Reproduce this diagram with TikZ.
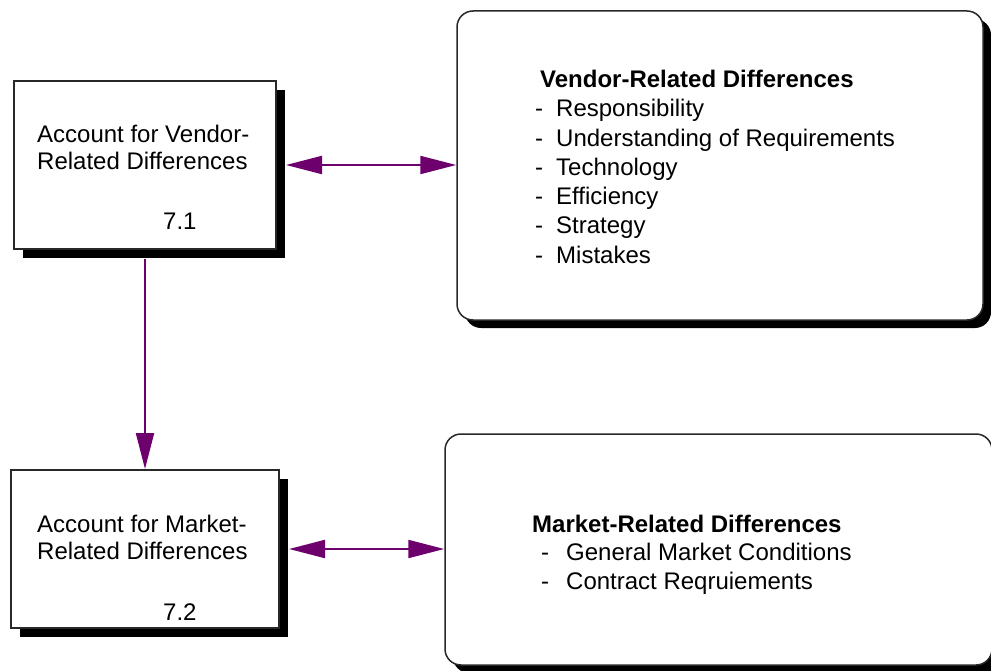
\documentclass[tikz,border=0pt]{standalone}
\usepackage{fontspec}
\setmainfont{Liberation Sans}
\usetikzlibrary{arrows.meta,shadows}
\definecolor{pur}{RGB}{110,0,110}
\definecolor{edge}{RGB}{40,40,40}
\begin{document}
\begin{tikzpicture}[x=1pt,y=-1pt,
  procbox/.style={draw=edge, line width=2pt, fill=white, inner sep=0pt,
    general shadow={fill=black, shadow xshift=9pt, shadow yshift=-9pt}},
  storebox/.style={draw=edge, line width=1.5pt, fill=white, inner sep=0pt, rounded corners=16pt,
    general shadow={fill=black, shadow xshift=8pt, shadow yshift=-8pt}},
  txt/.style={anchor=base west, inner sep=0pt, font=\fontsize{24}{27}\selectfont},
  btxt/.style={txt, font=\fontsize{24}{27}\selectfont\bfseries},
  flow/.style={draw=pur, line width=2pt},
  tip/.tip={Triangle[length=36pt,width=18pt]}]
\useasboundingbox (0,0) rectangle (991,671);
\clip (0,0) rectangle (991,671);
\fill[white] (0,0) rectangle (991,671);

% boxes
\node[procbox, minimum width=262pt, minimum height=168pt] (p1) at (145,165) {};
\node[procbox, minimum width=268pt, minimum height=158pt] (p2) at (145,549) {};
\node[storebox, minimum width=526pt, minimum height=309pt] (s1) at (720,165.5) {};
\node[storebox, minimum width=547pt, minimum height=231pt] (s2) at (718.5,549.5) {};

% connectors
\coordinate (p1r) at ([xshift=9pt]p1.east);
\coordinate (p2r) at ([xshift=9pt]p2.east);
\coordinate (p1b) at ([yshift=-9pt]p1.south);
\draw[flow, tip-tip] (p1r) -- (s1.west |- p1r);
\draw[flow, tip-tip] (p2r) -- (s2.west |- p2r);
\draw[flow, -tip] (p1b) -- (p2.north);

% texts of process boxes
\node[txt] (p1a) at (37,142.5) {Account for Vendor-};
\node[txt] (p1c) at (37,169.5) {Related Differences};
\node[txt] (p1n) at (163,230) {7.1};
\node[txt] (p2a) at (37,532) {Account for Market-};
\node[txt] (p2c) at (37,559.5) {Related Differences};
\node[txt] (p2n) at (163,620) {7.2};

% vendor store
\node[btxt] (s1t) at (540,88) {Vendor-Related Differences};
\foreach \y/\t [count=\i] in {117/Responsibility, 147/Understanding of Requirements, 176/Technology, 205/Efficiency, 234/Strategy, 264/Mistakes}{
  \node[txt] (s1d\i) at (535,\y) {-};
  \node[txt] (s1i\i) at (556,\y) {\t};
}

% market store
\node[btxt] (s2t) at (532,532) {Market-Related Differences};
\node[txt] (s2d1) at (541,560) {-};
\node[txt] (s2i1) at (566,560) {General Market Conditions};
\node[txt] (s2d2) at (541,589) {-};
\node[txt] (s2i2) at (566,589) {Contract Reqruiements};
\end{tikzpicture}
\end{document}
